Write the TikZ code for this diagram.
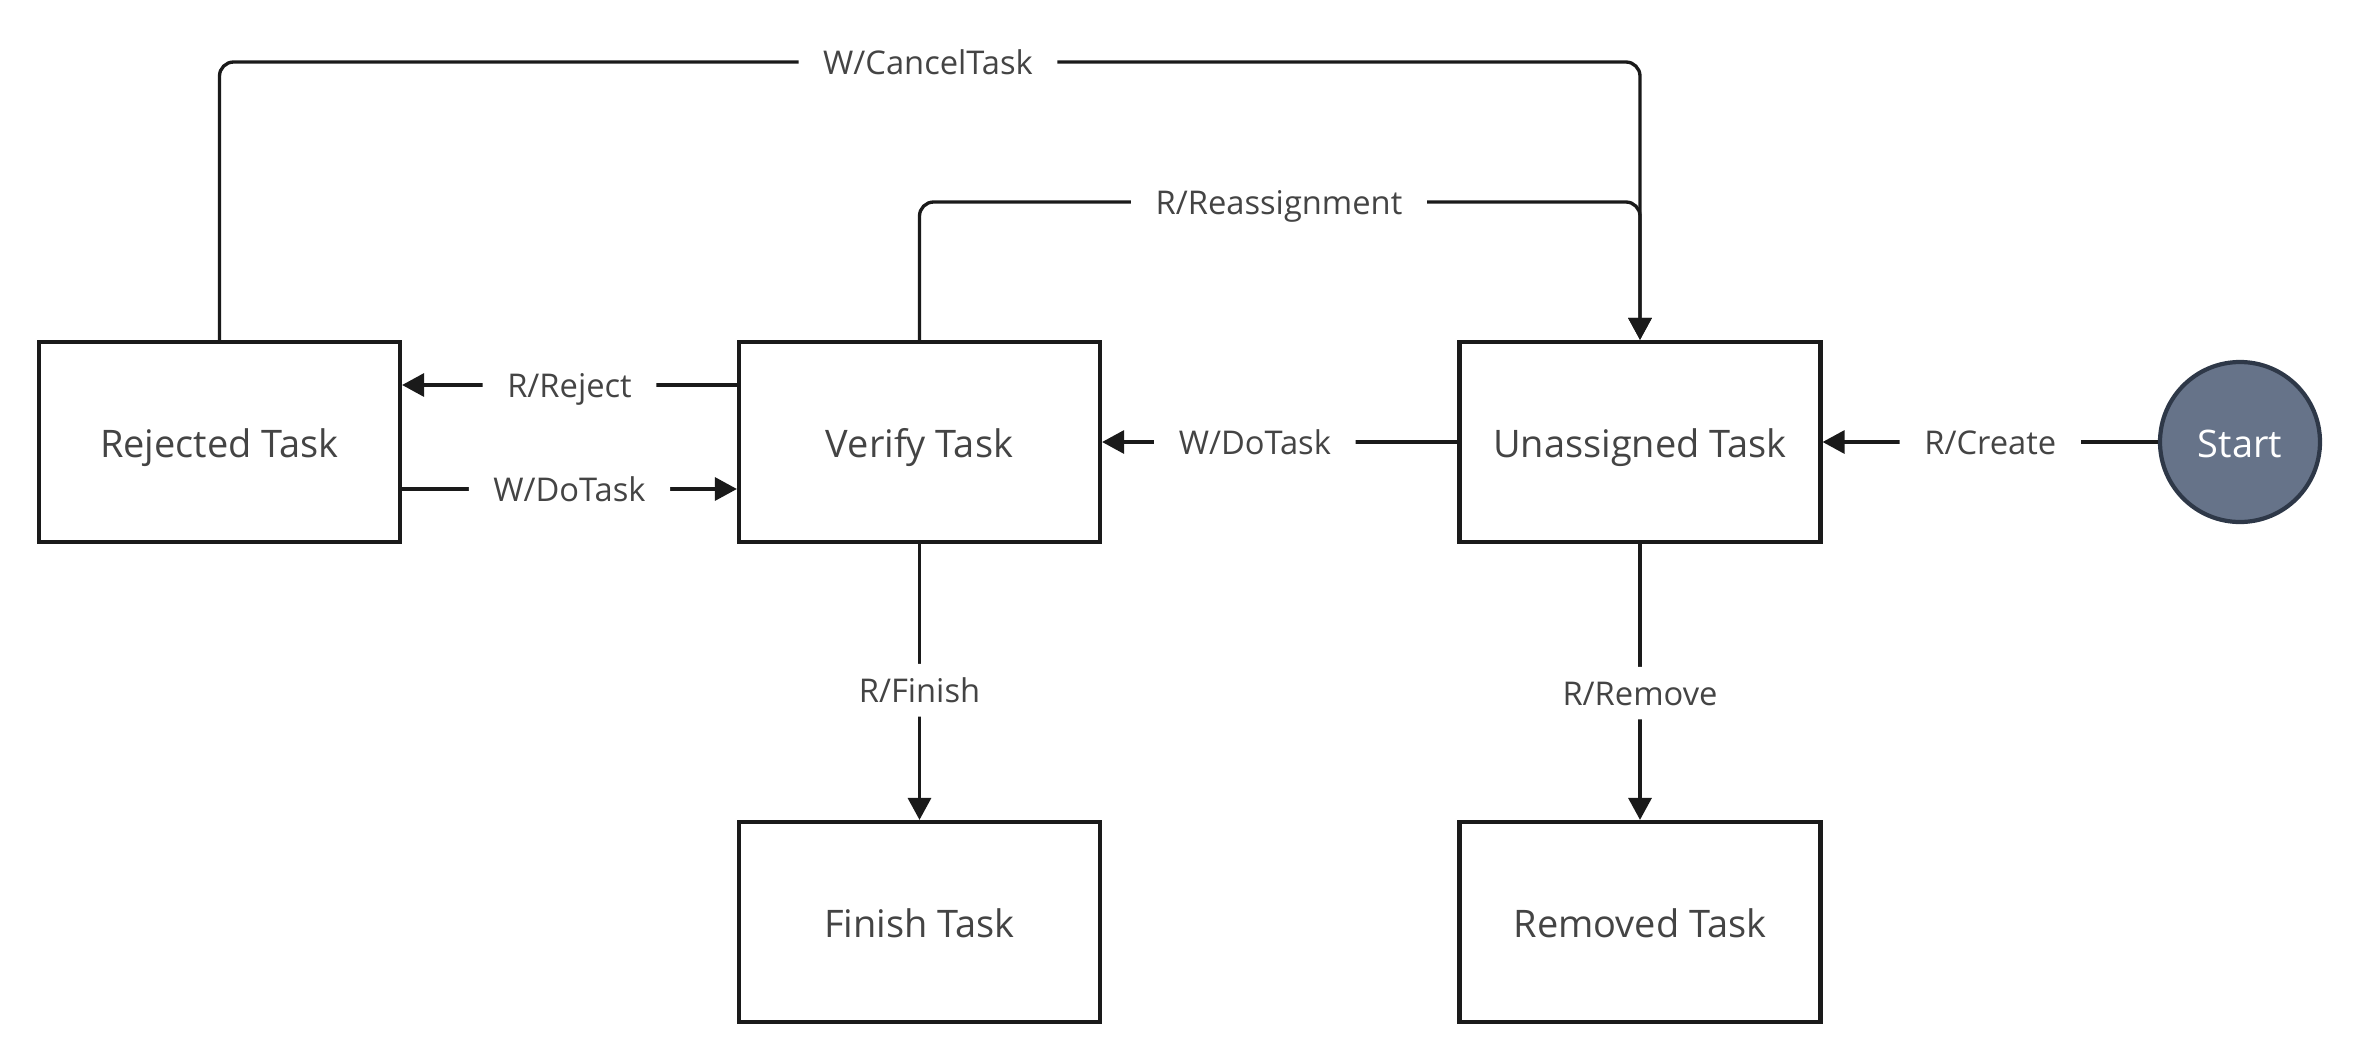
\documentclass[tikz,border=0pt]{standalone}
\usepackage{fontspec}
\setmainfont{Open Sans}
\usetikzlibrary{arrows.meta,positioning,calc}
\definecolor{txtgray}{HTML}{444444}
\definecolor{linegray}{HTML}{1A1A1A}
\definecolor{startfill}{HTML}{667389}
\definecolor{startdraw}{HTML}{2E3848}

\begin{document}
\begin{tikzpicture}[
      every node/.style={font=\fontsize{10.8}{12}\selectfont, text=txtgray},
      state/.style={rectangle, draw=linegray, line width=1.2pt, fill=white,
                    minimum width=3.61cm, minimum height=2.0cm, align=center,
                    text height=1.65ex, text depth=0pt},
      startnode/.style={circle, draw=startdraw, line width=1.2pt, fill=startfill,
                    minimum size=1.6cm, text=white, inner sep=0pt,
                    text height=1.6ex, text depth=0pt},
      flow/.style={draw=linegray, line width=0.95pt, rounded corners=4pt,
                   -{Triangle[length=0.22cm, width=0.23cm]}},
      lbl/.style={fill=white, inner xsep=7pt, inner ysep=4pt,
                  text height=1.3ex, text depth=0pt,
                  font=\fontsize{9.3}{11}\selectfont},
    ]
    \useasboundingbox (0,0) rectangle (23.6,-10.62);

    % States in the middle row
    \node[state] (rej) at (2.195,-4.42) {Rejected Task};
    \node[state] (ver) at (9.195,-4.42) {Verify Task};
    \node[state] (un)  at (16.40,-4.42) {Unassigned Task};
    \node[startnode] (start) at (22.40,-4.42) {Start};

    % Final states below
    \node[state] (fin) at (9.195,-9.22) {Finish Task};
    \node[state] (rem) at (16.40,-9.22) {Removed Task};

    % Label points on the top loops
    \coordinate (cancel) at (9.28,-0.62);
    \coordinate (reassign) at (12.79,-2.02);

    % Transitions
    \draw[flow] (start) -- node[lbl] {R/Create} (un);
    \draw[flow] (un) -- node[lbl, pos=0.57] {W/DoTask} (ver);
    \draw[flow] ([yshift=0.57cm]ver.west) -- node[lbl] {R/Reject} ([yshift=0.57cm]rej.east);
    \draw[flow] ([yshift=-0.47cm]rej.east) -- node[lbl] {W/DoTask} ([yshift=-0.47cm]ver.west);
    \draw[flow] (ver) -- node[lbl, pos=0.53] {R/Finish} (fin);
    \draw[flow] (un) -- node[lbl, pos=0.54] {R/Remove} (rem);
    \draw[flow] (rej.north) |- (cancel) node[lbl] {W/CancelTask} -| (un.north);
    \draw[flow] (ver.north) |- (reassign) node[lbl] {R/Reassignment} -| (un.north);
  \end{tikzpicture}
\end{document}
